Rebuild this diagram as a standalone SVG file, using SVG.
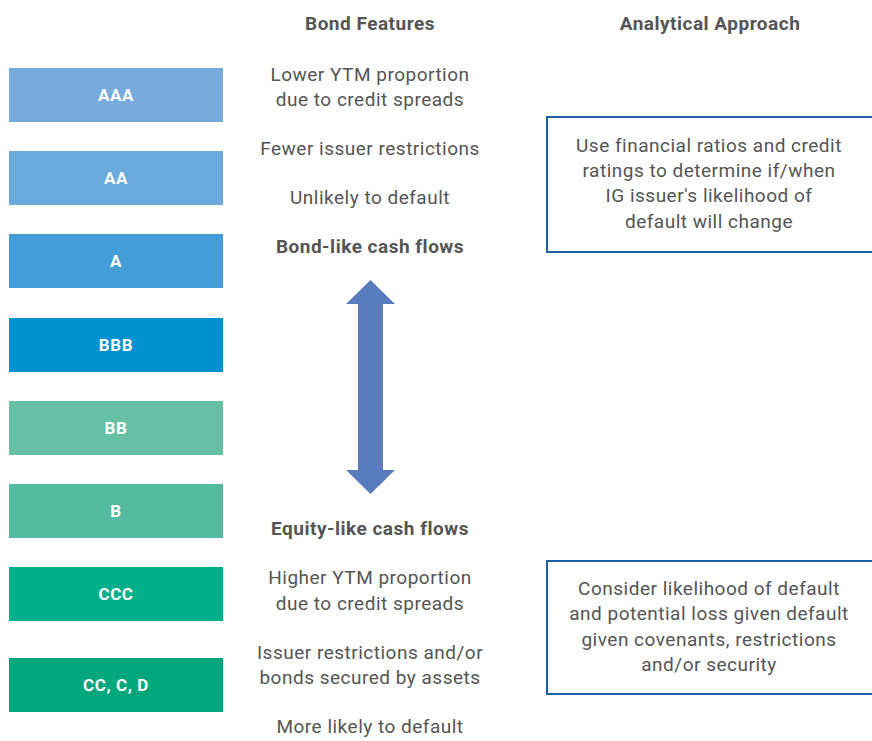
<svg xmlns="http://www.w3.org/2000/svg" width="872" height="741" viewBox="0 0 872 741">
<style>
.rl{font-family:Roboto,"Liberation Sans",sans-serif;font-size:17px;font-weight:bold;fill:#fff;text-anchor:middle;letter-spacing:0.6px}
.t{font-family:Roboto,"Liberation Sans",sans-serif;font-size:19px;fill:#555;text-anchor:middle;letter-spacing:0.5px}
.h{font-family:Roboto,"Liberation Sans",sans-serif;font-size:19px;font-weight:bold;fill:#555;text-anchor:middle;letter-spacing:0.5px}
.bx{fill:#fff;stroke:#1f5fa8;stroke-width:2}
</style>
<rect width="872" height="741" fill="#fff"/>
<text class="h" x="370" y="30">Bond Features</text>
<text class="h" x="710" y="30">Analytical Approach</text>
<g id="aaa"><rect x="9" y="68" width="214" height="54" fill="#76abdc"/><text class="rl" x="116" y="101">AAA</text></g>
<g id="aa"><rect x="9" y="151" width="214" height="54" fill="#6aa9dc"/><text class="rl" x="116" y="184">AA</text></g>
<g id="a"><rect x="9" y="234" width="214" height="54" fill="#449dd7"/><text class="rl" x="116" y="267">A</text></g>
<g id="bbb"><rect x="9" y="318" width="214" height="54" fill="#0091d0"/><text class="rl" x="116" y="351">BBB</text></g>
<g id="bb"><rect x="9" y="401" width="214" height="54" fill="#66c0a4"/><text class="rl" x="116" y="434">BB</text></g>
<g id="b"><rect x="9" y="484" width="214" height="54" fill="#55bba0"/><text class="rl" x="116" y="517">B</text></g>
<g id="ccc"><rect x="9" y="567" width="214" height="54" fill="#00b08c"/><text class="rl" x="116" y="600">CCC</text></g>
<g id="ccd"><rect x="9" y="658" width="214" height="54" fill="#00a67c"/><text class="rl" x="116" y="691">CC, C, D</text></g>
<g id="features-top">
<text class="t" x="370" y="81">Lower YTM proportion</text>
<text class="t" x="370" y="106">due to credit spreads</text>
<text class="t" x="370" y="155">Fewer issuer restrictions</text>
<text class="t" x="370" y="204">Unlikely to default</text>
<text class="h" x="370" y="253">Bond-like cash flows</text>
</g>
<g id="features-bottom">
<text class="h" x="370" y="535">Equity-like cash flows</text>
<text class="t" x="370" y="584">Higher YTM proportion</text>
<text class="t" x="370" y="610">due to credit spreads</text>
<text class="t" x="370" y="659">Issuer restrictions and/or</text>
<text class="t" x="370" y="684">bonds secured by assets</text>
<text class="t" x="370" y="733">More likely to default</text>
</g>
<g id="connectors">
<polygon points="370.5,280 395,304 383,304 383,470 395,470 370.5,494 346,470 358,470 358,304 346,304" fill="#5b7bbf"/>
</g>
<g id="approach-ig">
<rect class="bx" x="547" y="117" width="340" height="135"/>
<text class="t" x="709" y="152">Use financial ratios and credit</text>
<text class="t" x="709" y="177">ratings to determine if/when</text>
<text class="t" x="709" y="202">IG issuer's likelihood of</text>
<text class="t" x="709" y="228">default will change</text>
</g>
<g id="approach-hy">
<rect class="bx" x="547" y="561" width="340" height="133"/>
<text class="t" x="709" y="595">Consider likelihood of default</text>
<text class="t" x="709" y="620">and potential loss given default</text>
<text class="t" x="709" y="646">given covenants, restrictions</text>
<text class="t" x="709" y="671">and/or security</text>
</g>
</svg>
